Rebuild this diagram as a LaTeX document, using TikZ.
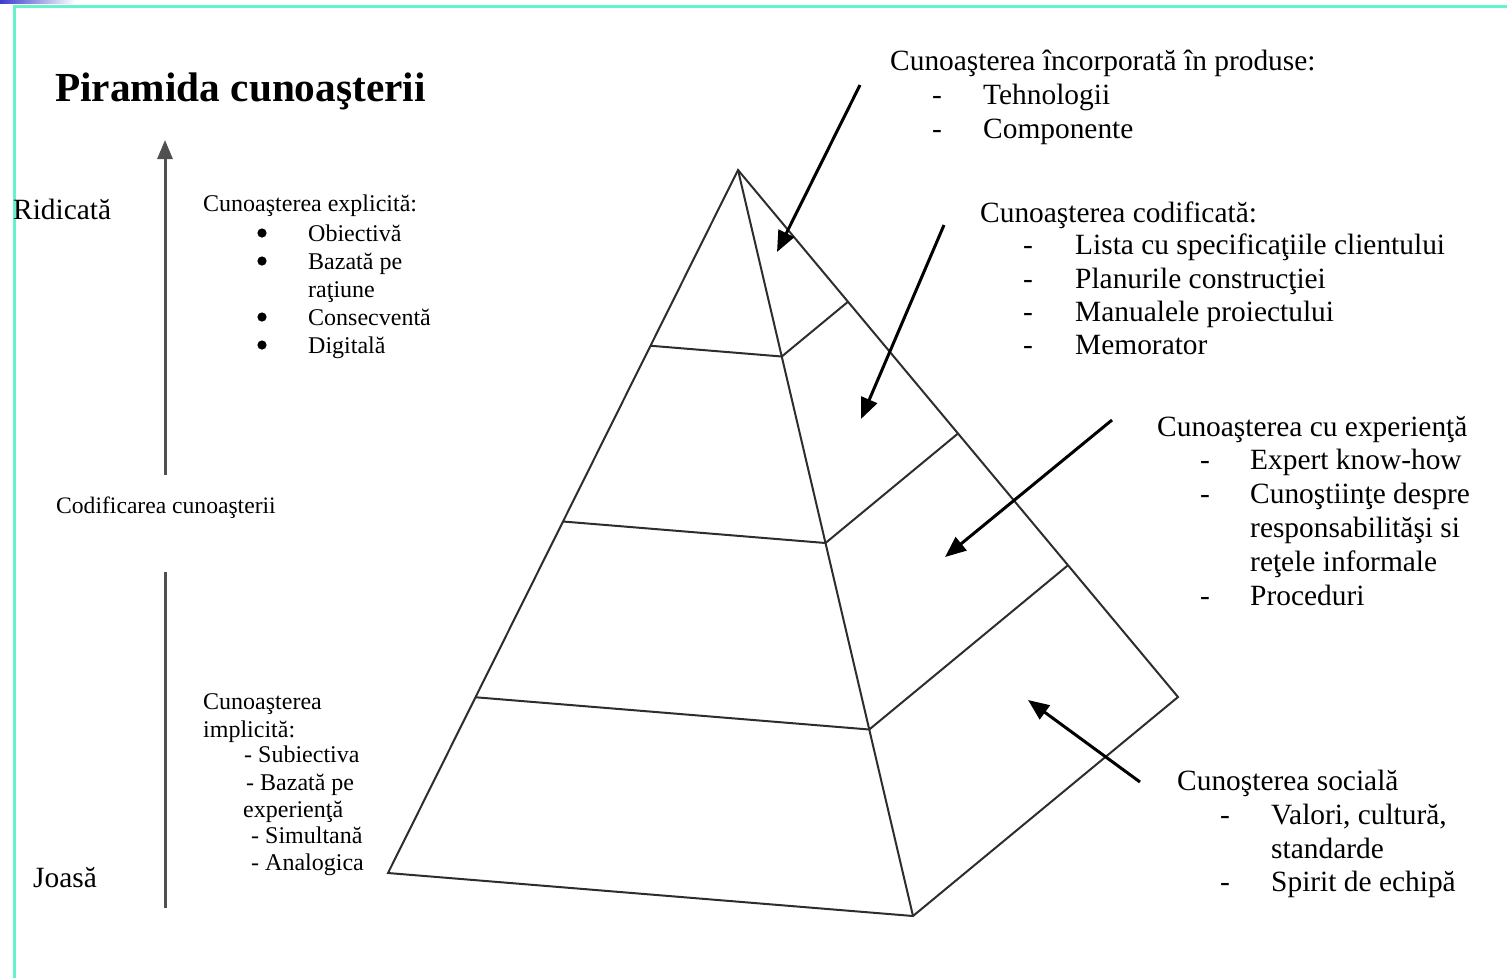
\documentclass[tikz,border=0pt]{standalone}
\usepackage{fontspec}
\setmainfont{Liberation Serif}
\usetikzlibrary{arrows.meta,calc}
\definecolor{framecol}{RGB}{102,242,204}
\definecolor{edgecol}{RGB}{45,45,45}
\definecolor{axiscol}{RGB}{80,80,80}
\definecolor{cornerblue}{RGB}{60,60,205}
\begin{document}
\begin{tikzpicture}[x=1pt,y=-1pt,
  big/.style={font=\fontsize{29.4}{34}\selectfont, inner sep=0pt, anchor=base west},
  small/.style={font=\fontsize{24}{28}\selectfont, inner sep=0pt, anchor=base west},
  pyr/.style={draw=edgecol, line width=2pt, line join=miter},
  pointer/.style={draw=black, line width=3pt, -{Triangle[length=21pt,width=17pt]}},
  axisline/.style={draw=axiscol, line width=3pt},
]
\useasboundingbox (0,0) rectangle (1507,978);

% frame
\shade[left color=cornerblue, right color=white] (0,0) rectangle (75,3);
\draw[framecol, line width=3pt] (14,978) -- (14,6.5) -- (1507,6.5);

% title
\node[anchor=base west, inner sep=0pt, font=\fontsize{41.3}{48}\selectfont\bfseries] (title) at (55,101) {Piramida cunoaşterii};

% vertical scale on the left
\coordinate (up0) at (165,475);
\coordinate (up1) at (165,140);
\coordinate (dn0) at (165,572);
\coordinate (dn1) at (165,908);
\draw[axisline, -{Triangle[length=19pt,width=15pt]}] (up0) -- (up1);
\draw[axisline] (dn0) -- (dn1);
\node[big] (high) at (13,219) {Ridicată};
\node[big] (low) at (33,887) {Joasă};
\node[small, font=\fontsize{23.6}{28}\selectfont] (codif) at (56,513) {Codificarea cunoaşterii};

% explicit knowledge, with round bullets
\node[small] (expl) at (203,211) {Cunoaşterea explicită:};
\foreach \yb in {233,261,317,345} \fill (262,\yb) circle[radius=4.6pt];
\node[small] (expl-1) at (308,241) {Obiectivă};
\node[small] (expl-2) at (308,269) {Bazată pe};
\node[small] (expl-2b) at (308,297) {raţiune};
\node[small] (expl-3) at (308,325) {Consecventă};
\node[small] (expl-4) at (308,353) {Digitală};

% implicit knowledge
\begin{scope}[every node/.append style={font=\fontsize{23.3}{28}\selectfont}]
\node[small] (impl-a) at (203,709) {Cunoaşterea};
\node[small] (impl-b) at (203,737) {implicită:};
\node[small] (impl-1) at (244,762) {- Subiectiva};
\node[small] (impl-2) at (246,790) {- Bazată pe};
\node[small] (impl-2b) at (243,817) {experienţă};
\node[small] (impl-3) at (251,843) {- Simultană};
\node[small] (impl-4) at (251,870) {- Analogica};
\end{scope}

% pyramid
\coordinate (A) at (738,170);
\coordinate (BL) at (388,873);
\coordinate (F) at (913,916);
\coordinate (R) at (1178,697);
\draw[pyr] (A) -- (BL) -- (F) -- (R) -- cycle;
\draw[pyr] (A) -- (F);
\foreach \t/\n in {0.25/1,0.5/2,0.75/3}{
  \coordinate (L\n) at ($(A)!\t!(BL)$);
  \coordinate (M\n) at ($(A)!\t!(F)$);
  \coordinate (N\n) at ($(A)!\t!(R)$);
  \draw[pyr] (L\n) -- (M\n) -- (N\n);
}

% pointers to the layers
\coordinate (p1s) at (860,85);   \coordinate (p1e) at (777,252);
\coordinate (p2s) at (944,225);  \coordinate (p2e) at (861,419);
\coordinate (p3s) at (1112,420); \coordinate (p3e) at (945,557);
\coordinate (p4s) at (1140,782); \coordinate (p4e) at (1028,700);
\draw[pointer] (p1s) -- (p1e);
\draw[pointer] (p2s) -- (p2e);
\draw[pointer] (p3s) -- (p3e);
\draw[pointer] (p4s) -- (p4e);

% embedded knowledge
\node[big] (emb) at (890,70) {Cunoaşterea încorporată în produse:};
\node[big] (emb-d1) at (932,104) {-}; \node[big] (emb-1) at (983,104) {Tehnologii};
\node[big] (emb-d2) at (932,138) {-}; \node[big] (emb-2) at (983,138) {Componente};

% codified knowledge
\node[big] (cod) at (980,222) {Cunoaşterea codificată:};
\node[big] (cod-d1) at (1023,254) {-}; \node[big] (cod-1) at (1075,254) {Lista cu specificaţiile clientului};
\node[big] (cod-d2) at (1023,288) {-}; \node[big] (cod-2) at (1075,288) {Planurile construcţiei};
\node[big] (cod-d3) at (1023,321) {-}; \node[big] (cod-3) at (1075,321) {Manualele proiectului};
\node[big] (cod-d4) at (1023,354) {-}; \node[big] (cod-4) at (1075,354) {Memorator};

% experience knowledge
\node[big] (exp) at (1157,436) {Cunoaşterea cu experienţă};
\node[big] (exp-d1) at (1200,469) {-}; \node[big] (exp-1) at (1250,469) {Expert know-how};
\node[big] (exp-d2) at (1200,503) {-}; \node[big] (exp-2) at (1250,503) {Cunoştiinţe despre};
\node[big] (exp-2b) at (1250,537) {responsabilităşi si};
\node[big] (exp-2c) at (1250,571) {reţele informale};
\node[big] (exp-d3) at (1200,605) {-}; \node[big] (exp-3) at (1250,605) {Proceduri};

% social knowledge
\node[big] (soc) at (1177,790) {Cunoşterea socială};
\node[big] (soc-d1) at (1220,824) {-}; \node[big] (soc-1) at (1271,824) {Valori, cultură,};
\node[big] (soc-1b) at (1271,858) {standarde};
\node[big] (soc-d2) at (1220,891) {-}; \node[big] (soc-2) at (1271,891) {Spirit de echipă};
\end{tikzpicture}
\end{document}
